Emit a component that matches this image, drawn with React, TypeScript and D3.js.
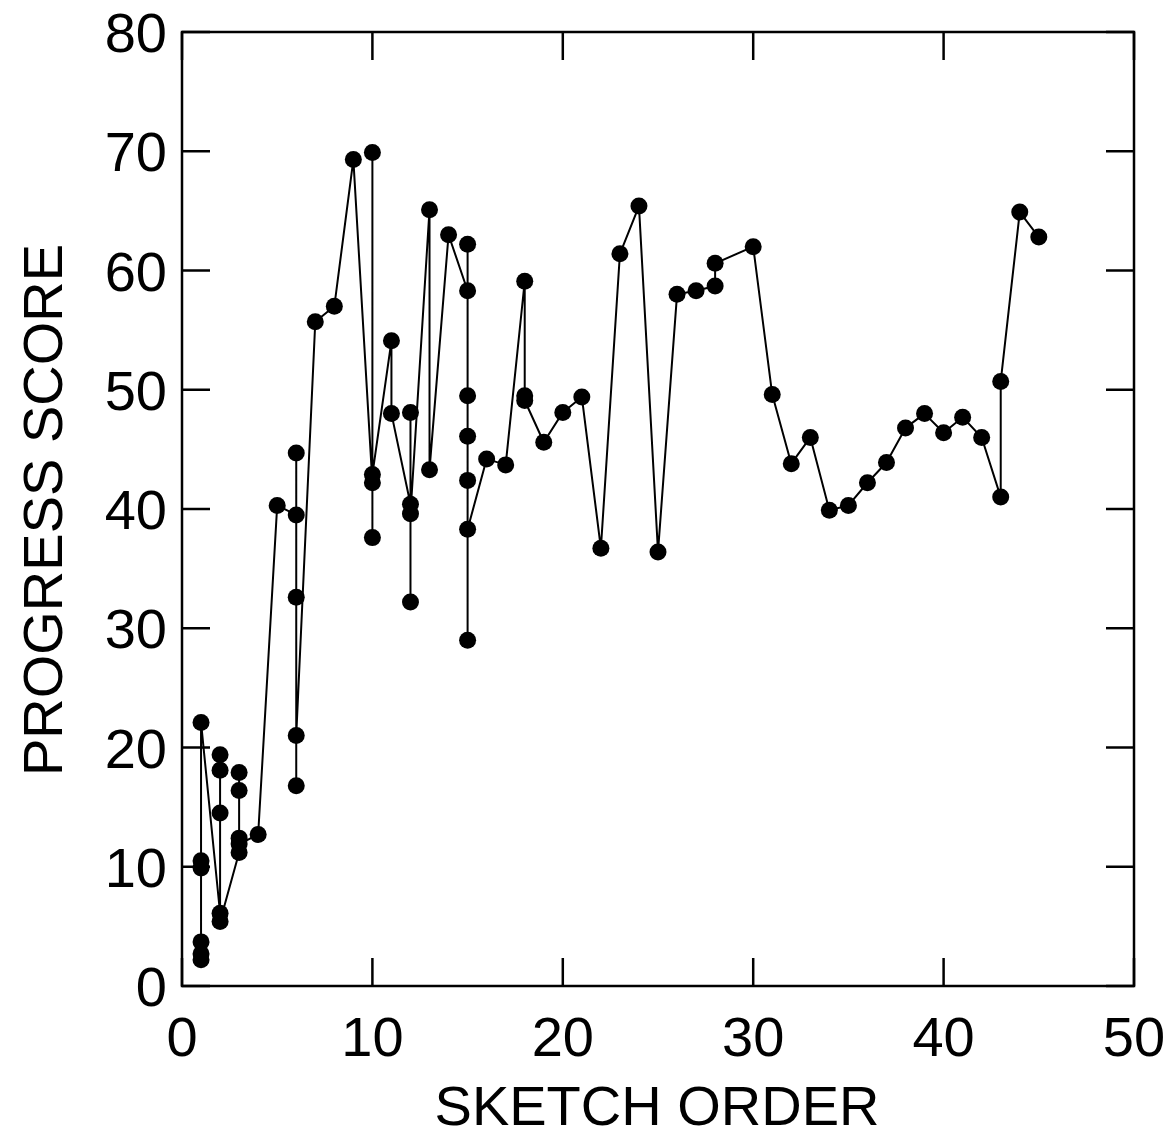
import React from "react";
import * as d3 from "d3";

const WIDTH = 1172;
const HEIGHT = 1132;

const MARGIN = { left: 182, right: 38, top: 32, bottom: 146 };

// sketch order (x) and progress score (y), in drawing order
const sketchOrder = [
  1, 1, 1, 1, 1, 1,
  2, 2, 2, 2, 2,
  3, 3, 3, 3, 3,
  4, 5,
  6, 6, 6, 6, 6,
  7, 8, 9,
  10, 10, 10, 10,
  11, 11,
  12, 12, 12, 12,
  13, 13, 14,
  15, 15, 15, 15, 15, 15, 15,
  16, 17,
  18, 18, 18,
  19, 20, 21, 22, 23, 24, 25, 26, 27,
  28, 28,
  30, 31, 32, 33, 34, 35, 36, 37, 38, 39, 40, 41, 42,
  43, 43,
  44, 45,
];

const progressScore = [
  2.2, 2.7, 3.7, 9.9, 10.5, 22.1,
  6.1, 19.4, 18.1, 14.5, 5.4,
  11.2, 17.9, 16.4, 12.4, 11.9,
  12.7, 40.3,
  39.5, 44.7, 32.6, 16.8, 21.0,
  55.7, 57.0, 69.3,
  42.2, 69.9, 37.6, 42.9,
  54.1, 48.0,
  40.4, 48.1, 32.2, 39.6,
  65.1, 43.3, 63.0,
  58.3, 62.2, 49.5, 46.1, 42.4, 29.0, 38.3,
  44.2, 43.7,
  59.1, 49.5, 49.1,
  45.6, 48.1, 49.4, 36.7, 61.4, 65.4, 36.4, 58.0, 58.3,
  58.7, 60.6,
  62.0, 49.6, 43.8, 46.0, 39.9, 40.3, 42.2, 43.9, 46.8, 48.0, 46.4, 47.7, 46.0,
  41.0, 50.7,
  64.9, 62.8,
];

const xTicks = [0, 10, 20, 30, 40, 50];
const yTicks = [0, 10, 20, 30, 40, 50, 60, 70, 80];

const FONT = "'Liberation Sans', Arial, sans-serif";
const TICK = 28;

export default function App() {
  const boundsWidth = WIDTH - MARGIN.left - MARGIN.right;
  const boundsHeight = HEIGHT - MARGIN.top - MARGIN.bottom;

  const xScale = d3.scaleLinear().domain([0, 50]).range([0, boundsWidth]);
  const yScale = d3.scaleLinear().domain([0, 80]).range([boundsHeight, 0]);

  const points = sketchOrder.map((x, i) => ({ x, y: progressScore[i] }));

  const linePath = d3
    .line<{ x: number; y: number }>()
    .x((d) => xScale(d.x))
    .y((d) => yScale(d.y))(points);

  return (
    <svg
      width={WIDTH}
      height={HEIGHT}
      style={{ position: "absolute", left: 0, top: 0, background: "#fff" }}
    >
      <g transform={`translate(${MARGIN.left},${MARGIN.top})`}>
        {/* frame */}
        <rect
          x={0}
          y={0}
          width={boundsWidth}
          height={boundsHeight}
          fill="none"
          stroke="#000"
          strokeWidth={2.5}
        />

        {/* x ticks: bottom and top, inward */}
        {xTicks.map((t) => (
          <g key={"x" + t}>
            <line x1={xScale(t)} x2={xScale(t)} y1={boundsHeight} y2={boundsHeight - TICK} stroke="#000" strokeWidth={2.5} />
            <line x1={xScale(t)} x2={xScale(t)} y1={0} y2={TICK} stroke="#000" strokeWidth={2.5} />
            <text
              x={xScale(t)}
              y={boundsHeight + 70}
              textAnchor="middle"
              fontFamily={FONT}
              fontSize={56}
              fill="#000"
            >
              {t}
            </text>
          </g>
        ))}

        {/* y ticks: left and right, inward */}
        {yTicks.map((t) => (
          <g key={"y" + t}>
            <line x1={0} x2={TICK} y1={yScale(t)} y2={yScale(t)} stroke="#000" strokeWidth={2.5} />
            <line x1={boundsWidth} x2={boundsWidth - TICK} y1={yScale(t)} y2={yScale(t)} stroke="#000" strokeWidth={2.5} />
            <text
              x={-15}
              y={yScale(t) + 20}
              textAnchor="end"
              fontFamily={FONT}
              fontSize={56}
              fill="#000"
            >
              {t}
            </text>
          </g>
        ))}

        {/* data line */}
        <path d={linePath ?? ""} fill="none" stroke="#000" strokeWidth={2} strokeLinejoin="round" />

        {points.map((p, i) => (
          <circle key={i} cx={xScale(p.x)} cy={yScale(p.y)} r={8.5} fill="#000" />
        ))}
      </g>

      {/* axis titles */}
      <text
        x={657}
        y={1125}
        textAnchor="middle"
        fontFamily={FONT}
        fontSize={56}
        fill="#000"
      >
        SKETCH ORDER
      </text>
      <text
        transform="translate(62,510) rotate(-90)"
        textAnchor="middle"
        fontFamily={FONT}
        fontSize={56}
        fill="#000"
      >
        PROGRESS SCORE
      </text>
    </svg>
  );
}
